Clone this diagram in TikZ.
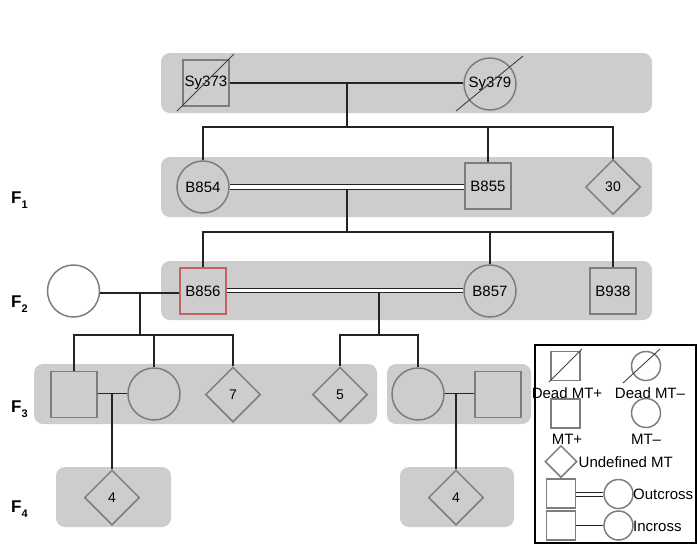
\documentclass[tikz,border=0pt]{standalone}
\usepackage{fontspec}
\setmainfont{Liberation Sans}
\usetikzlibrary{shapes.geometric}
\definecolor{bandgray}{RGB}{205,205,205}
\definecolor{shapegray}{RGB}{125,125,125}
\definecolor{conncol}{RGB}{35,35,35}
\definecolor{redline}{RGB}{200,95,95}
\tikzset{
  band/.style={fill=bandgray, rounded corners=9pt},
  sq/.style={draw=shapegray, line width=1.5pt, rectangle, minimum size=46pt, inner sep=0pt, font=\fontsize{15}{15}\selectfont},
  ci/.style={draw=shapegray, line width=1.5pt, circle, minimum size=52pt, inner sep=0pt, font=\fontsize{15}{15}\selectfont},
  dia/.style={draw=shapegray, line width=1.5pt, diamond, aspect=1, minimum width=55pt, minimum height=55pt, inner sep=0pt, font=\fontsize{14}{14}\selectfont},
  lsq/.style={sq, minimum size=29pt},
  lci/.style={ci, minimum size=29pt},
  ldia/.style={dia, minimum width=32pt, minimum height=32pt},
  conn/.style={draw=conncol, line width=1.6pt},
  dconn/.style={draw=conncol, line width=1.3pt, double=white, double distance=3.2pt},
  dead/.style={draw=black!75, line width=0.9pt},
  gen/.style={anchor=base west, font=\bfseries\fontsize{17}{17}\selectfont, inner sep=0pt},
  ltext/.style={font=\fontsize{15}{15}\selectfont, inner sep=0pt}
}
\newcommand{\gensub}[1]{\raisebox{-0.3em}{\fontsize{11}{11}\selectfont #1}}
\begin{document}
\begin{tikzpicture}[x=1pt,y=-1pt]
\useasboundingbox (0,0) rectangle (698,558);
% bands
\fill[band] (161,53) rectangle (652,113);
\fill[band] (161,157) rectangle (652,217);
\fill[band] (161,261) rectangle (652,320);
\fill[band] (34,364) rectangle (377,424);
\fill[band] (387,364) rectangle (531,424);
\fill[band] (56,467) rectangle (171,527);
\fill[band] (400,467) rectangle (514,527);
% generation labels
\node[gen] (F1) at (11,203.5) {F\gensub{1}};
\node[gen] (F2) at (11,307.5) {F\gensub{2}};
\node[gen] (F3) at (11,412) {F\gensub{3}};
\node[gen] (F4) at (11,512) {F\gensub{4}};
% P generation
\node[sq] (Sy373) at (206,83) {Sy373};
\node[ci] (Sy379) at (490,84) {Sy379};
\draw[dead] (177,111) -- (234,54);
\draw[dead] (456,111) -- (523,56);
% F1
\node[ci] (B854) at (203,187) {B854};
\node[sq] (B855) at (488,186) {B855};
\node[dia] (D30) at (613,187) {30};
% F2
\node[ci] (W) at (73.5,291) {};
\node[sq, draw=redline, line width=2pt] (B856) at (203,291) {B856};
\node[ci] (B857) at (490,291) {B857};
\node[sq] (B938) at (613,291) {B938};
% F3
\node[sq] (S3a) at (74,394.5) {};
\node[ci] (C3a) at (154,394) {};
\node[dia] (D7) at (233,394.5) {7};
\node[dia] (D5) at (340,394.5) {5};
\node[ci] (C3b) at (418,394) {};
\node[sq] (S3b) at (498,394.5) {};
% F4
\node[dia] (D4a) at (112,497.5) {4};
\node[dia] (D4b) at (456,497.5) {4};
% coordinates
\coordinate (m0) at (347,83);
\coordinate (s0) at (347,127);
\coordinate (m1) at (347,190);
\coordinate (s1) at (347,232);
\coordinate (m2a) at (140,293);
\coordinate (s2a) at (140,335);
\coordinate (m2b) at (379,293);
\coordinate (s2b) at (379,335);
\coordinate (m3a) at (112,393.5);
\coordinate (m3b) at (456,393.5);
% P connectors
\draw[conn] (Sy373.east) -- (Sy373.east -| Sy379.west);
\draw[conn] (m0) -- (s0);
\draw[conn] (B854.north) -- (B854.north |- s0) -- (D30.north |- s0) -- (D30.north);
\draw[conn] (B855.north |- s0) -- (B855.north);
% F1 connectors
\draw[dconn] (B854.east) -- (B854.east -| B855.west);
\draw[conn] (m1) -- (s1);
\draw[conn] (B856.north) -- (B856.north |- s1) -- (B938.north |- s1) -- (B938.north);
\draw[conn] (B857.north |- s1) -- (B857.north);
% F2 connectors
\draw[conn] (W.east |- m2a) -- (B856.west |- m2a);
\draw[dconn] (B856.east |- 0,290.5) -- (B857.west |- 0,290.5);
\draw[conn] (m2a) -- (s2a);
\draw[conn] (m2b) -- (s2b);
\draw[conn] (S3a.north) -- (S3a.north |- s2a) -- (D7.north |- s2a) -- (D7.north);
\draw[conn] (C3a.north |- s2a) -- (C3a.north);
\draw[conn] (D5.north) -- (D5.north |- s2b) -- (C3b.north |- s2b) -- (C3b.north);
% F3 connectors
\draw[conn] (S3a.east |- m3a) -- (C3a.west |- m3a);
\draw[conn] (m3a) -- (D4a.north);
\draw[conn] (C3b.east |- m3b) -- (S3b.west |- m3b);
\draw[conn] (m3b) -- (D4b.north);
% legend
\draw[draw=black, line width=1.5pt] (535,345) rectangle (696,543);
\node[lsq] (LsqD) at (565.5,366) {};
\draw[dead] (549,382) -- (582,349);
\node[lci] (LciD) at (646,366) {};
\draw[dead] (623,383) -- (660,349);
\node[ltext] (tDp) at (567,393) {Dead MT+};
\node[ltext] (tDm) at (650,393) {Dead MT–};
\node[lsq] (LsqA) at (565.5,413.5) {};
\node[lci] (LciA) at (646,413) {};
\node[ltext] (tMp) at (567,439) {MT+};
\node[ltext] (tMm) at (646,439) {MT–};
\node[ldia] (Ldia) at (561,461.5) {};
\node[ltext, anchor=west] (tU) at (578.5,462) {Undefined MT};
\node[lsq] (LsqO) at (561,493.5) {};
\node[lci] (LciO) at (618.5,494) {};
\draw[draw=conncol, line width=1pt, double=white, double distance=3pt] (LsqO.east |- 0,494) -- (LciO.west |- 0,494);
\node[ltext, anchor=west] (tO) at (633,494) {Outcross};
\node[lsq] (LsqI) at (561,525.5) {};
\node[lci] (LciI) at (618.5,525.5) {};
\draw[draw=conncol, line width=1pt] (LsqI.east) -- (LciI.west);
\node[ltext, anchor=west] (tI) at (633,526) {Incross};
\end{tikzpicture}
\end{document}
